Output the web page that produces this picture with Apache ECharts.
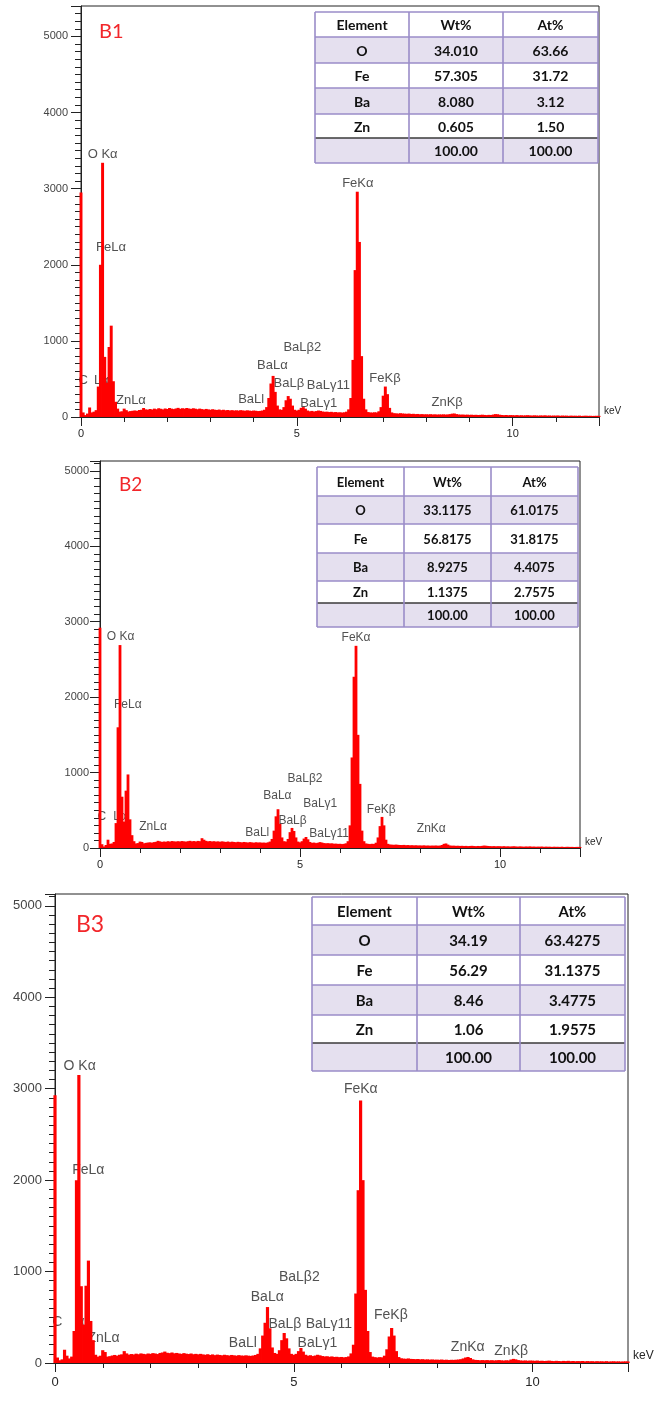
<!DOCTYPE html>
<html>
<head>
<meta charset="utf-8">
<title>EDS spectra B1 - B3</title>
<script src="https://cdn.jsdelivr.net/npm/echarts@6/dist/echarts.min.js"></script>
<style>
  html, body { margin: 0; padding: 0; background: #fff; }
  #chart { width: 656px; height: 1404px; }
</style>
</head>
<body>
<div id="chart"></div>
<script>
// channel width of the spectra, keV
const binWidth = 0.05;

// counts per channel, one row = 1 keV (0.00 .. 12.00 keV)
const countsB1 = [
  2950, 60, 25, 45, 125, 60, 70, 90, 400, 2000, 3340, 790, 450, 920, 1200, 470, 200, 110, 70, 75,
  110, 90, 72, 78, 82, 86, 80, 92, 95, 118, 100, 96, 105, 98, 110, 102, 115, 108, 100, 112,
  105, 118, 110, 104, 112, 120, 108, 115, 110, 118, 112, 106, 115, 109, 102, 110, 104, 98, 106, 100,
  95, 102, 96, 92, 98, 90, 95, 88, 92, 86, 90, 85, 88, 84, 90, 86, 82, 88, 84, 80,
  85, 82, 78, 80, 85, 95, 130, 250, 440, 540, 330, 150, 100, 95, 130, 220, 275, 240, 150, 95,
  85, 95, 120, 130, 110, 85, 75, 80, 72, 78, 85, 80, 72, 68, 70, 65, 68, 62, 65, 60,
  62, 58, 62, 70, 100, 250, 750, 1930, 2960, 2300, 800, 240, 100, 65, 60, 58, 62, 60, 75, 130,
  280, 400, 300, 120, 60, 50, 48, 45, 50, 46, 44, 42, 45, 40, 42, 38, 40, 36, 38, 35,
  36, 34, 37, 33, 35, 32, 34, 33, 35, 32, 34, 38, 44, 46, 38, 33, 31, 32, 29, 31,
  28, 30, 27, 29, 26, 28, 30, 27, 25, 28, 26, 32, 38, 36, 30, 26, 24, 26, 23, 25,
  24, 22, 25, 21, 23, 20, 22, 24, 21, 19, 22, 20, 18, 21, 19, 22, 18, 20, 17, 19,
  18, 20, 16, 19, 17, 18, 15, 18, 16, 17, 15, 18, 14, 16, 17, 15, 16, 14, 15, 16,
  15
];
const countsB2 = [
  2920, 50, 20, 40, 110, 55, 60, 80, 330, 1600, 2690, 680, 350, 760, 975, 380, 170, 90, 60, 65,
  85, 80, 62, 68, 72, 75, 70, 78, 82, 95, 88, 80, 86, 82, 90, 84, 92, 88, 85, 90,
  86, 92, 88, 84, 90, 95, 88, 92, 86, 94, 90, 130, 110, 95, 88, 92, 86, 90, 84, 88,
  82, 88, 84, 80, 86, 78, 84, 80, 76, 82, 78, 74, 80, 76, 72, 78, 74, 70, 76, 72,
  74, 70, 72, 68, 75, 85, 120, 230, 420, 514, 320, 140, 90, 85, 120, 210, 266, 225, 140, 85,
  75, 90, 125, 146, 115, 80, 68, 72, 65, 70, 78, 72, 65, 62, 64, 60, 62, 56, 58, 54,
  56, 52, 55, 62, 90, 300, 1200, 2270, 2680, 1500, 850, 230, 90, 60, 55, 52, 56, 54, 70, 140,
  290, 412, 300, 110, 55, 46, 44, 42, 45, 42, 40, 39, 41, 37, 39, 35, 37, 34, 36, 33,
  34, 32, 35, 31, 33, 30, 32, 31, 33, 30, 32, 40, 55, 60, 45, 33, 30, 31, 28, 30,
  27, 29, 26, 28, 25, 27, 29, 26, 24, 27, 25, 28, 32, 30, 27, 25, 23, 25, 22, 24,
  23, 21, 24, 20, 22, 19, 21, 23, 20, 18, 21, 19, 17, 20, 18, 21, 17, 19, 16, 18,
  17, 19, 15, 18, 16, 17, 14, 17, 15, 16, 14, 17, 13, 15, 16, 14, 15, 13, 14, 15,
  14
];
const countsB3 = [
  2930, 60, 30, 40, 145, 80, 50, 70, 350, 2000, 3150, 840, 420, 845, 1120, 460, 250, 90, 70, 80,
  140, 120, 70, 75, 82, 88, 80, 90, 95, 130, 105, 92, 98, 94, 102, 96, 105, 100, 96, 104,
  100, 108, 104, 98, 110, 115, 125, 112, 108, 115, 106, 110, 104, 100, 108, 102, 98, 104, 96, 100,
  95, 100, 94, 90, 96, 88, 94, 86, 92, 88, 84, 90, 86, 82, 88, 84, 80, 86, 82, 80,
  84, 80, 78, 82, 88, 100, 160, 300, 440, 612, 380, 170, 110, 100, 140, 250, 328, 270, 160, 100,
  90, 100, 130, 164, 125, 90, 80, 85, 76, 82, 90, 84, 76, 72, 74, 68, 72, 66, 68, 64,
  66, 62, 65, 72, 105, 200, 760, 1890, 2870, 2000, 800, 350, 120, 70, 64, 60, 64, 62, 80, 150,
  290, 383, 300, 130, 65, 52, 48, 46, 50, 45, 44, 42, 44, 40, 42, 38, 40, 37, 39, 36,
  37, 35, 38, 34, 36, 33, 35, 34, 36, 38, 42, 50, 60, 66, 55, 40, 34, 33, 30, 32,
  30, 32, 29, 31, 28, 30, 32, 29, 27, 30, 28, 38, 45, 40, 32, 28, 26, 28, 25, 27,
  26, 24, 27, 23, 25, 22, 24, 26, 23, 21, 24, 22, 20, 23, 21, 24, 20, 22, 19, 21,
  20, 22, 18, 21, 19, 20, 17, 20, 18, 19, 17, 20, 16, 18, 19, 17, 18, 16, 17, 18,
  17
];

// tick labels
const xTickLabels = [0, 5, 10];
const yTickLabels = [0, 1000, 2000, 3000, 4000, 5000];

// peak annotations: [text, keV, counts] (anchor = left end of text)
const peaksB1 = [
  ['C', -0.06, 485], ['Lα', 0.3, 485],
  ['O Kα', 0.155, 3452], ['FeLα', 0.35, 2224], ['ZnLα', 0.81, 214],
  ['BaLl', 3.64, 227], ['BaLα', 4.08, 677], ['BaLβ2', 4.69, 913], ['BaLβ', 4.46, 437],
  ['BaLγ11', 5.23, 414], ['BaLγ1', 5.08, 184],
  ['FeKα', 6.05, 3072], ['FeKβ', 6.68, 511], ['ZnKβ', 8.12, 197]
];
const peaksB2 = [
  ['C', -0.06, 412], ['Lα', 0.33, 412],
  ['O Kα', 0.17, 2801], ['FeLα', 0.35, 1894], ['ZnLα', 0.98, 279],
  ['BaLl', 3.63, 204], ['BaLα', 4.08, 690], ['BaLβ2', 4.69, 921], ['BaLβ', 4.46, 368],
  ['BaLγ1', 5.08, 589], ['BaLγ11', 5.23, 191],
  ['FeKα', 6.04, 2788], ['FeKβ', 6.67, 514], ['ZnKα', 7.92, 257]
];
const peaksB3 = [
  ['C', -0.06, 448], ['α', 0.45, 448],
  ['O Kα', 0.18, 3249], ['FeLα', 0.36, 2113], ['ZnLα', 0.68, 273],
  ['BaLl', 3.64, 218], ['BaLα', 4.10, 717], ['BaLβ2', 4.69, 940], ['BaLβ', 4.47, 430],
  ['BaLγ11', 5.25, 430], ['BaLγ1', 5.08, 218],
  ['FeKα', 6.05, 2998], ['FeKβ', 6.68, 520], ['ZnKα', 8.29, 175], ['ZnKβ', 9.2, 134]
];

// composition tables
const tableHead = ['Element', 'Wt%', 'At%'];
const elements = ['O', 'Fe', 'Ba', 'Zn', ''];
const wtB1 = ['34.010', '57.305', '8.080', '0.605', '100.00'];
const atB1 = ['63.66', '31.72', '3.12', '1.50', '100.00'];
const wtB2 = ['33.1175', '56.8175', '8.9275', '1.1375', '100.00'];
const atB2 = ['61.0175', '31.8175', '4.4075', '2.7575', '100.00'];
const wtB3 = ['34.19', '56.29', '8.46', '1.06', '100.00'];
const atB3 = ['63.4275', '31.1375', '3.4775', '1.9575', '100.00'];

// layout of the three panels
const panels = [
  {
    tag: 'B1', counts: countsB1, peaks: peaksB1, wt: wtB1, at: atB1, ymax: 5400,
    grid: { left: 81, top: 6, width: 518, height: 411 },
    labelFont: 13, tickFont: 11, yMargin: 13, xMargin: 11,
    tagPos: [99, 32], tagFont: 20,
    table: { cols: [315, 409, 503, 598], rows: [12, 37, 63, 88, 114, 138, 163], font: 14 }
  },
  {
    tag: 'B2', counts: countsB2, peaks: peaksB2, wt: wtB2, at: atB2, ymax: 5130,
    grid: { left: 100, top: 461, width: 480, height: 387 },
    labelFont: 12, tickFont: 11, yMargin: 11, xMargin: 11,
    tagPos: [119, 485], tagFont: 19,
    table: { cols: [317, 404, 491, 578], rows: [467, 496, 524, 553, 581, 603, 627], font: 13 }
  },
  {
    tag: 'B3', counts: countsB3, peaks: peaksB3, wt: wtB3, at: atB3, ymax: 5130,
    grid: { left: 55, top: 894, width: 573, height: 469 },
    labelFont: 14, tickFont: 13, yMargin: 13, xMargin: 13,
    tagPos: [76, 925], tagFont: 23,
    table: { cols: [312, 417, 520, 625], rows: [897, 925, 955, 985, 1015, 1043, 1071], font: 15 }
  }
];

const axisColor = '#222';
const textColor = '#262626';

function tableGraphic(t, wt, at) {
  const els = [];
  const cells = [tableHead].concat(elements.map((e, i) => [e, wt[i], at[i]]));
  const x0 = t.cols[0], x1 = t.cols[3];
  cells.forEach((row, r) => {
    const y0 = t.rows[r], y1 = t.rows[r + 1];
    els.push({
      type: 'rect', z: 100,
      shape: { x: x0, y: y0, width: x1 - x0, height: y1 - y0 },
      style: { fill: r % 2 ? '#e5e0ef' : '#ffffff' }
    });
    row.forEach((txt, c) => {
      els.push({
        type: 'text', z: 102,
        x: (t.cols[c] + t.cols[c + 1]) / 2, y: (y0 + y1) / 2 + 1,
        style: {
          text: txt, font: 'bold ' + t.font + 'px Lato', fill: '#111',
          align: 'center', verticalAlign: 'middle',
          textAlign: 'center', textVerticalAlign: 'middle'
        }
      });
    });
  });
  t.rows.forEach((y, r) => {
    els.push({
      type: 'line', z: 101,
      shape: { x1: x0, y1: y, x2: x1, y2: y },
      style: { stroke: r === t.rows.length - 2 ? '#3a3a3a' : '#9a8cc8', lineWidth: 1.6 }
    });
  });
  t.cols.forEach(x => {
    els.push({
      type: 'line', z: 101,
      shape: { x1: x, y1: t.rows[0], x2: x, y2: t.rows[t.rows.length - 1] },
      style: { stroke: '#9a8cc8', lineWidth: 1.6 }
    });
  });
  return els;
}

const option = { animation: false, grid: [], xAxis: [], yAxis: [], series: [], graphic: [] };

panels.forEach((p, k) => {
  option.grid.push(Object.assign({
    show: true, borderColor: axisColor, borderWidth: 1, backgroundColor: 'transparent'
  }, p.grid));

  // x: minor ticks every keV, major ticks + labels every 5 keV
  option.xAxis.push({
    gridIndex: k, type: 'value', position: 'bottom', min: 0, max: 12, interval: 1,
    axisLine: { show: true, onZero: false, lineStyle: { color: axisColor, width: 1 } },
    axisTick: { show: true, length: 5, lineStyle: { color: axisColor } },
    axisLabel: { show: false }, splitLine: { show: false }
  });
  option.xAxis.push({
    gridIndex: k, type: 'value', position: 'bottom', min: 0, max: 12, interval: 5,
    axisLine: { show: false, onZero: false },
    axisTick: { show: true, length: 9, lineStyle: { color: axisColor } },
    axisLabel: {
      fontSize: p.tickFont, fontFamily: 'Liberation Sans', color: textColor, margin: p.xMargin,
      formatter: v => xTickLabels.includes(v) ? String(v) : ''
    },
    splitLine: { show: false },
    name: 'keV', nameLocation: 'end', nameGap: 5,
    nameTextStyle: {
      fontSize: p.tickFont - 1, fontFamily: 'Liberation Sans', color: textColor,
      verticalAlign: 'bottom', padding: [0, 0, 1, 0]
    }
  });

  // y: minor ticks every 100 counts, major ticks + labels every 1000
  option.yAxis.push({
    gridIndex: k, type: 'value', position: 'left', min: 0, max: p.ymax, interval: 100,
    axisLine: { show: true, onZero: false, lineStyle: { color: axisColor, width: 1 } },
    axisTick: { show: true, length: 6, lineStyle: { color: axisColor } },
    axisLabel: { show: false }, splitLine: { show: false }
  });
  option.yAxis.push({
    gridIndex: k, type: 'value', position: 'left', min: 0, max: p.ymax, interval: 1000,
    axisLine: { show: false, onZero: false },
    axisTick: { show: true, length: 10, lineStyle: { color: axisColor } },
    axisLabel: {
      fontSize: p.tickFont, fontFamily: 'Liberation Sans', color: '#444', margin: p.yMargin,
      formatter: v => yTickLabels.includes(v) ? String(v) : ''
    },
    splitLine: { show: false }
  });

  // peak annotations (below the spectrum, so the red fill can cover them)
  option.series.push({
    type: 'scatter', xAxisIndex: 2 * k, yAxisIndex: 2 * k, z: 2, silent: true, clip: false,
    symbolSize: 0,
    data: p.peaks.map(d => [d[1], d[2], d[0]]),
    label: {
      show: true, position: 'inside', align: 'left', verticalAlign: 'middle',
      formatter: prm => prm.data[2],
      fontSize: p.labelFont, fontFamily: 'Liberation Sans', color: textColor
    }
  });

  // the spectrum as a histogram: one bar per channel, slightly overlapping
  const channelPx = binWidth * p.grid.width / 12;
  option.series.push({
    type: 'bar', xAxisIndex: 2 * k, yAxisIndex: 2 * k, z: 5, silent: true,
    barWidth: channelPx + 0.8, barCategoryGap: '0%', barGap: '0%',
    data: p.counts.map((c, i) => [+(i * binWidth).toFixed(2), c]),
    itemStyle: { color: '#ff0000', borderWidth: 0 }
  });

  // sample tag
  option.graphic.push({
    type: 'text', z: 100, x: p.tagPos[0], y: p.tagPos[1],
    style: {
      text: p.tag, font: p.tagFont + 'px Lato', fill: '#f2262a',
      align: 'left', verticalAlign: 'middle', textAlign: 'left', textVerticalAlign: 'middle'
    }
  });

  option.graphic.push(...tableGraphic(p.table, p.wt, p.at));
});

const chart = echarts.init(document.getElementById('chart'), null, { renderer: 'canvas' });
chart.setOption(option);
</script>
</body>
</html>
